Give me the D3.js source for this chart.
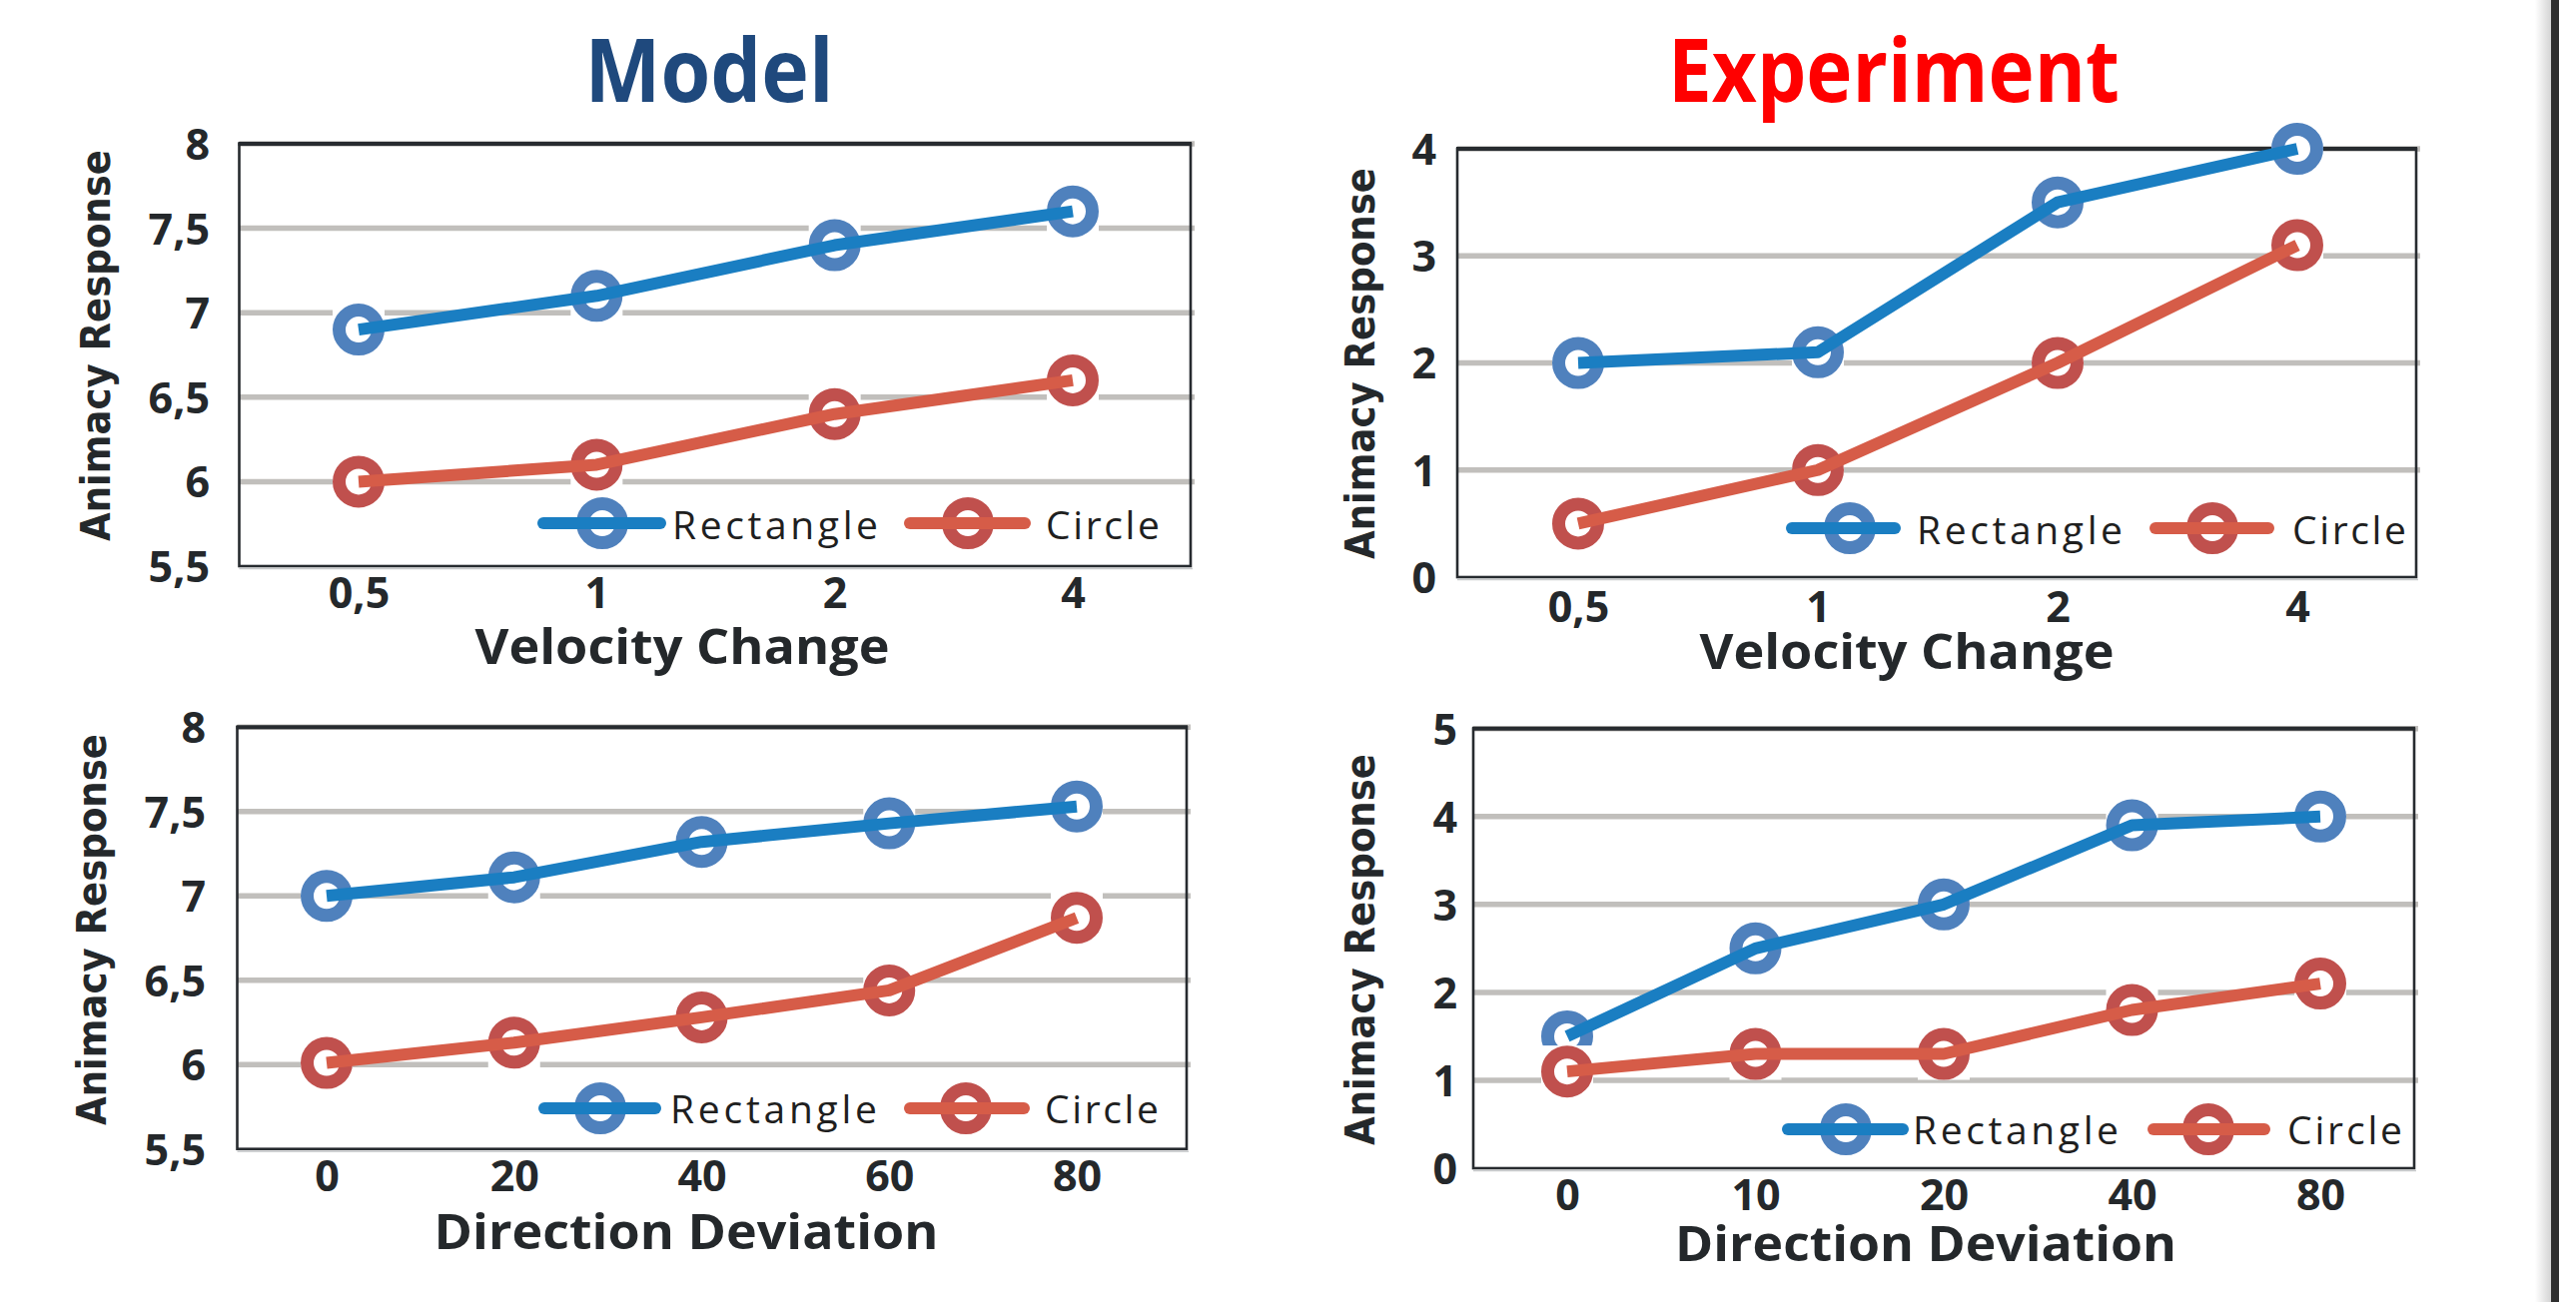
<!DOCTYPE html>
<html>
<head>
<meta charset="utf-8">
<script src="https://cdn.jsdelivr.net/npm/d3@7"></script>
<style>
  html, body { margin: 0; padding: 0; background: #ffffff; }
  svg { display: block; }
</style>
</head>
<body>
<script>
// ---------------- DATA ----------------
const seriesNames = ["Rectangle", "Circle"];
const velocityCats = ["0,5", "1", "2", "4"];
const modelDirectionCats = ["0", "20", "40", "60", "80"];
const expDirectionCats = ["0", "10", "20", "40", "80"];

const modelVelRect = [6.9, 7.1, 7.4, 7.6];
const modelVelCircle = [6.0, 6.1, 6.4, 6.6];
const expVelRect = [2.0, 2.1, 3.5, 4.0];
const expVelCircle = [0.5, 1.0, 2.0, 3.1];
const modelDirRect = [7.0, 7.11, 7.32, 7.43, 7.53];
const modelDirCircle = [6.01, 6.13, 6.28, 6.44, 6.87];
const expDirRect = [1.5, 2.5, 3.0, 3.9, 4.0];
const expDirCircle = [1.1, 1.3, 1.3, 1.8, 2.1];

const modelTicks = [5.5, 6, 6.5, 7, 7.5, 8];
const expVelTicks = [0, 1, 2, 3, 4];
const expDirTicks = [0, 1, 2, 3, 4, 5];

const titles = ["Model", "Experiment"];
const xTitles = ["Velocity Change", "Direction Deviation"];
const yTitle = "Animacy Response";

// ---------------- STYLE ----------------
const W = 2579, H = 1304;
const lineColors = ["#1A7EC2", "#D65C48"];
const ringColors = ["#4F81BD", "#C0504D"];
const gridColor = "#C1BFBC";
const axisColor = "#272B2F";
const textColor = "#24282B";
const fmt = v => String(v).replace(".", ",");

const svg = d3.select("body").append("svg")
  .attr("width", W).attr("height", H)
  .attr("viewBox", `0 0 ${W} ${H}`);
svg.append("rect").attr("width", W).attr("height", H).attr("fill", "#fff");

// right edge frame shadow
const defs = svg.append("defs");
const grad = defs.append("linearGradient").attr("id", "edgeShade")
  .attr("x1", "0").attr("x2", "1").attr("y1", "0").attr("y2", "0");
grad.append("stop").attr("offset", "0").attr("stop-color", "#ffffff");
grad.append("stop").attr("offset", "1").attr("stop-color", "#d4d4d4");
svg.append("rect").attr("x", 2538).attr("y", 0).attr("width", 16).attr("height", H).attr("fill", "url(#edgeShade)");
svg.append("rect").attr("x", 2554).attr("y", 0).attr("width", 8).attr("height", H).attr("fill", "#2e2e2e");

// titles
svg.append("text").text(titles[0])
  .attr("x", 710).attr("y", 102).attr("text-anchor", "middle")
  .attr("font-family", "'Open Sans', sans-serif").attr("font-weight", 700)
  .attr("font-size", 88).attr("fill", "#1F497D")
  .attr("textLength", 249).attr("lengthAdjust", "spacingAndGlyphs");
svg.append("text").text(titles[1])
  .attr("x", 1896).attr("y", 102).attr("text-anchor", "middle")
  .attr("font-family", "'Open Sans', sans-serif").attr("font-weight", 700)
  .attr("font-size", 88).attr("fill", "#FF0000")
  .attr("textLength", 452).attr("lengthAdjust", "spacingAndGlyphs");

// ---------------- PANELS ----------------
const panels = [
  { cats: velocityCats, series: [modelVelRect, modelVelCircle], domain: [5.5, 8], ticks: modelTicks,
    box: [239.5, 1192, 144, 567], pr: [359, 1074], tickRight: 210, xTickBase: 609,
    xTitle: { text: xTitles[0], x: 683, y: 665, len: 415 }, yT: { x: 110, cy: 346 },
    leg: { y: 524, base: 540, items: [ { l: [538, 667], m: 603, t: [673, 879] }, { l: [905, 1032], m: 969, t: [1047, 1161] } ] } },
  { cats: velocityCats, series: [expVelRect, expVelCircle], domain: [0, 4], ticks: expVelTicks,
    box: [1459, 2419, 149, 578], pr: [1580, 2300], tickRight: 1438, xTickBase: 623,
    xTitle: { text: xTitles[0], x: 1909, y: 670, len: 415 }, yT: { x: 1376, cy: 364 },
    leg: { y: 529, base: 545, items: [ { l: [1788, 1903], m: 1852, t: [1919, 2125] }, { l: [2152, 2277], m: 2215, t: [2295, 2409] } ] } },
  { cats: modelDirectionCats, series: [modelDirRect, modelDirCircle], domain: [5.5, 8], ticks: modelTicks,
    box: [237.5, 1188, 728.3, 1150.7], pr: [327, 1078], tickRight: 206, xTickBase: 1193,
    xTitle: { text: xTitles[1], x: 687, y: 1251, len: 505 }, yT: { x: 106, cy: 931 },
    leg: { y: 1110, base: 1125, items: [ { l: [539, 662], m: 601, t: [671, 878] }, { l: [905, 1031], m: 967, t: [1046, 1160] } ] } },
  { cats: expDirectionCats, series: [expDirRect, expDirCircle], domain: [0, 5], ticks: expDirTicks,
    box: [1475, 2417, 729.7, 1170], pr: [1569, 2323], tickRight: 1459, xTickBase: 1212,
    xTitle: { text: xTitles[1], x: 1928, y: 1263, len: 502 }, yT: { x: 1376, cy: 951 },
    leg: { y: 1131, base: 1146, items: [ { l: [1784, 1911], m: 1848, t: [1915, 2121] }, { l: [2150, 2273], m: 2211, t: [2290, 2405] } ] } }
];

const R = 19.5, RW = 13;

panels.forEach(p => {
  const [bx0, bx1, by0, by1] = p.box;
  const g = svg.append("g");
  const x = d3.scalePoint().domain(p.cats).range(p.pr);
  const y = d3.scaleLinear().domain(p.domain).range([by1, by0]);

  // gridlines
  g.append("g").selectAll("line").data(p.ticks.slice(1)).join("line")
    .attr("x1", bx0).attr("x2", bx1 + 4)
    .attr("y1", d => y(d)).attr("y2", d => y(d))
    .attr("stroke", gridColor).attr("stroke-width", 5.5);

  // plot frame
  g.append("rect").attr("x", bx0).attr("y", by0).attr("width", bx1 - bx0).attr("height", by1 - by0)
    .attr("fill", "none").attr("stroke", axisColor).attr("stroke-width", 2.6);
  g.append("line").attr("x1", bx0 - 1).attr("x2", bx1 + 1).attr("y1", by0).attr("y2", by0)
    .attr("stroke", axisColor).attr("stroke-width", 4);
  g.append("line").attr("x1", bx0).attr("x2", bx1 + 2).attr("y1", by1 + 2.5).attr("y2", by1 + 2.5)
    .attr("stroke", "#c8cacc").attr("stroke-width", 1.5);

  // y tick labels via axis
  const yAxis = d3.axisLeft(y).tickValues(p.ticks).tickFormat(fmt).tickSize(0).tickPadding(0);
  const ya = g.append("g").attr("transform", `translate(${p.tickRight},0)`).call(yAxis);
  ya.select(".domain").remove();
  ya.selectAll("text").attr("font-family", "'Open Sans', sans-serif").attr("font-weight", 700)
    .attr("font-size", 43).attr("fill", textColor).attr("dy", "0.36em").attr("x", 0);

  // x tick labels via axis
  const xAxis = d3.axisBottom(x).tickSize(0).tickPadding(0);
  const xa = g.append("g").attr("transform", `translate(0,${p.xTickBase})`).call(xAxis);
  xa.select(".domain").remove();
  xa.selectAll("text").attr("font-family", "'Open Sans', sans-serif").attr("font-weight", 700)
    .attr("font-size", 43).attr("fill", textColor).attr("dy", 0).attr("y", 0);

  // axis titles
  g.append("text").text(p.xTitle.text).attr("x", p.xTitle.x).attr("y", p.xTitle.y)
    .attr("text-anchor", "middle").attr("font-family", "'Open Sans', sans-serif").attr("font-weight", 700)
    .attr("font-size", 49).attr("fill", textColor)
    .attr("textLength", p.xTitle.len).attr("lengthAdjust", "spacingAndGlyphs");
  g.append("text").text(yTitle)
    .attr("transform", `translate(${p.yT.x},${p.yT.cy}) rotate(-90)`)
    .attr("text-anchor", "middle").attr("font-family", "'DejaVu Sans', sans-serif").attr("font-weight", 700)
    .attr("font-size", 40).attr("fill", textColor)
    .attr("textLength", 392).attr("lengthAdjust", "spacingAndGlyphs");

  // series
  p.series.forEach((vals, si) => {
    const pts = p.cats.map((c, i) => [x(c), y(vals[i])]);
    const sg = g.append("g");
    sg.selectAll("rect.bg").data(pts).join("rect").attr("class", "bg")
      .attr("x", d => d[0] - 26).attr("y", d => d[1] - 26).attr("width", 52).attr("height", 52)
      .attr("fill", "#fff");
    sg.selectAll("circle").data(pts).join("circle")
      .attr("cx", d => d[0]).attr("cy", d => d[1]).attr("r", R)
      .attr("fill", "#fff").attr("stroke", ringColors[si]).attr("stroke-width", RW);
    sg.append("path").datum(pts)
      .attr("d", d3.line())
      .attr("fill", "none").attr("stroke", lineColors[si]).attr("stroke-width", 12)
      .attr("stroke-linejoin", "round").attr("stroke-linecap", "butt");
  });

  // legend
  p.leg.items.forEach((it, si) => {
    const lg = g.append("g");
    lg.append("circle").attr("cx", it.m).attr("cy", p.leg.y).attr("r", R)
      .attr("fill", "#fff").attr("stroke", ringColors[si]).attr("stroke-width", RW);
    lg.append("line").attr("x1", it.l[0] + 6).attr("x2", it.l[1] - 6)
      .attr("y1", p.leg.y).attr("y2", p.leg.y)
      .attr("stroke", lineColors[si]).attr("stroke-width", 12).attr("stroke-linecap", "round");
    lg.append("text").text(seriesNames[si]).attr("x", it.t[0]).attr("y", p.leg.base)
      .attr("font-family", "'Open Sans', sans-serif").attr("font-size", 39).attr("fill", "#1f1f1f")
      .attr("textLength", it.t[1] - it.t[0]).attr("lengthAdjust", "spacing");
  });
});
</script>
</body>
</html>
